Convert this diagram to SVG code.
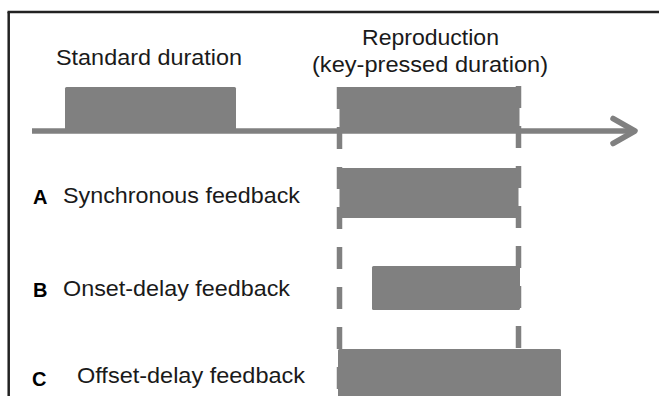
<svg xmlns="http://www.w3.org/2000/svg" width="659" height="396" viewBox="0 0 659 396">
  <style>
    .bar { fill: #808080; }
    .txt { font-family: "Liberation Sans", Arial, sans-serif; font-size: 22px; fill: #1a1a1a; }
    .letter { font-family: "Liberation Sans", Arial, sans-serif; font-size: 20px; font-weight: bold; fill: #000; }
    .dash { stroke: #808080; stroke-width: 5.5; stroke-dasharray: 22 18; fill: none; }
    .axis { stroke: #808080; stroke-width: 5.5; fill: none; }
  </style>
  <rect width="659" height="396" fill="#fff"/>
  <g id="frame">
    <line x1="8.7" y1="12" x2="8.7" y2="396" stroke="#222" stroke-width="2.5"/>
    <line x1="7.5" y1="12" x2="659" y2="12" stroke="#222" stroke-width="2.5"/>
  </g>
  <g id="connectors">
    <line class="axis" x1="32" y1="131" x2="634" y2="131"/>
    <polyline class="axis" points="613,118.5 635,131 613,143.5" stroke-width="6" stroke-linecap="round" stroke-linejoin="round"/>
    <line class="dash" x1="339.5" y1="87" x2="339.5" y2="396"/>
    <line class="dash" x1="518.5" y1="86" x2="518.5" y2="396"/>
  </g>
  <g id="standard">
    <rect class="bar" x="65" y="87" width="171" height="45" rx="1.5"/>
    <text class="txt" x="56" y="65" textLength="186" lengthAdjust="spacingAndGlyphs">Standard duration</text>
  </g>
  <g id="reproduction">
    <rect class="bar" x="339.5" y="87" width="180" height="46" rx="1.5"/>
    <text class="txt" x="362" y="45" textLength="137" lengthAdjust="spacingAndGlyphs">Reproduction</text>
    <text class="txt" x="312" y="72" textLength="236" lengthAdjust="spacingAndGlyphs">(key-pressed duration)</text>
  </g>
  <g id="rowA">
    <rect class="bar" x="339.5" y="168" width="179" height="50" rx="1.5"/>
    <text class="letter" x="33" y="204">A</text>
    <text class="txt" x="63" y="203" textLength="237" lengthAdjust="spacingAndGlyphs">Synchronous feedback</text>
  </g>
  <g id="rowB">
    <rect class="bar" x="372" y="266" width="148" height="44" rx="1.5"/>
    <text class="letter" x="33" y="297">B</text>
    <text class="txt" x="63" y="296" textLength="227" lengthAdjust="spacingAndGlyphs">Onset-delay feedback</text>
  </g>
  <g id="rowC">
    <rect class="bar" x="338" y="349" width="223" height="52" rx="1.5"/>
    <text class="letter" x="32" y="386">C</text>
    <text class="txt" x="77" y="383" textLength="228" lengthAdjust="spacingAndGlyphs">Offset-delay feedback</text>
  </g>
</svg>
